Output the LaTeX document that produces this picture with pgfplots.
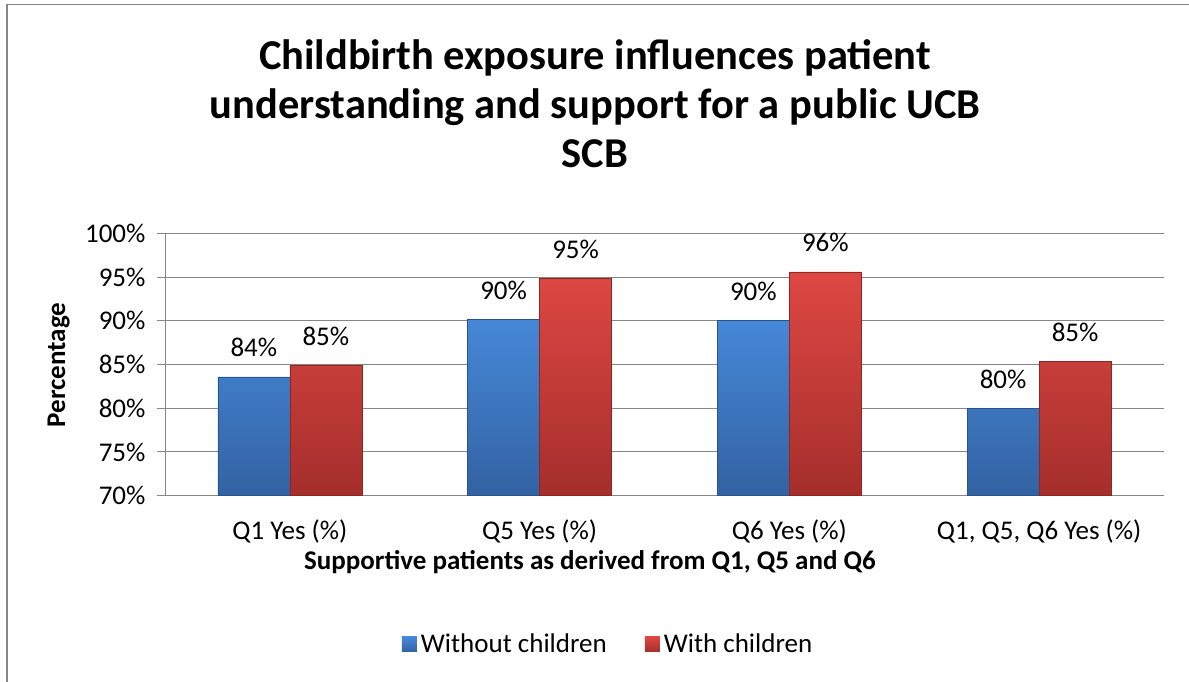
\documentclass[border=0pt]{standalone}
\usepackage{fontspec}
\setmainfont{Carlito}
\usepackage{pgfplots}
\pgfplotsset{compat=1.18}

\definecolor{gridgray}{RGB}{134,134,134}
\definecolor{blueTop}{RGB}{70,136,216}
\definecolor{blueMid}{RGB}{60,120,196}
\definecolor{blueBot}{RGB}{50,98,162}
\definecolor{redTop}{RGB}{222,72,67}
\definecolor{redMid}{RGB}{200,60,56}
\definecolor{redBot}{RGB}{165,46,43}
\newcommand{\lbl}{\fontsize{27}{32}\selectfont}

\begin{document}
\begin{tikzpicture}[x=1pt,y=1pt]
\useasboundingbox (0,0) rectangle (1189,682);
% chart frame
\draw[gridgray, line width=1.3pt] (7,0) -- (7,677.3) -- (1189,677.3);

% title
\begin{scope}[every node/.style={anchor=base, font=\bfseries\fontsize{42.5}{49}\selectfont}]
\node at (595,612) {Childbirth exposure influences patient};
\node at (595,563) {understanding and support for a public UCB};
\node at (595,514) {SCB};
\end{scope}

\begin{axis}[
  at={(165pt,186.3pt)}, anchor=south west,
  scale only axis, width=999pt, height=262.2pt,
  ybar=0pt, bar width=72pt,
  xmin=-0.5, xmax=3.5,
  ymin=70, ymax=100,
  y coord trafo/.code={\pgfmathparse{#1-70}},
  y coord inv trafo/.code={\pgfmathparse{#1+70}},
  xtick={0,1,2,3},
  xticklabels={Q1 Yes (\%), Q5 Yes (\%), Q6 Yes (\%), {Q1, Q5, Q6 Yes (\%)}},
  major x tick style={draw=none},
  extra x ticks={-0.5,0.5,1.5,2.5,3.5},
  extra x tick labels={},
  extra x tick style={major tick length=8pt, tick align=outside,
    tick style={draw=gridgray, line width=1pt}, xmajorgrids=false},
  ytick={70,75,80,85,90,95,100},
  yticklabels={70\%,75\%,80\%,85\%,90\%,95\%,100\%},
  ymajorgrids, grid style={gridgray, line width=1pt},
  tick align=outside, major tick length=8pt,
  axis x line*=bottom, axis y line*=left,
  axis line style={gridgray, line width=1pt, -},
  ytick style={gridgray, line width=1pt},
  tick label style={font=\lbl, text=black},
  xticklabel style={anchor=base, yshift=-36pt},
  yticklabel style={anchor=east, xshift=-8pt},
  clip=false,
  point meta=rawy,
  /pgf/number format/assume math mode=true,
  nodes near coords={\pgfmathprintnumber[fixed,precision=0]{\pgfplotspointmeta}\%},
  nodes near coords style={font=\lbl, anchor=base, yshift=20pt, inner sep=0pt, text=black},
  legend columns=2,
  legend style={at={(0.2372,-0.5656)}, anchor=west, draw=none, fill=none,
    inner sep=0pt, outer sep=0pt, nodes={inner xsep=4pt},
    font=\lbl, /tikz/every even column/.append style={column sep=34pt}},
  legend image code/.code={\path[#1, draw=none] (0pt,-8pt) rectangle (15pt,7pt);},
]
\addplot[top color=blueTop, middle color=blueMid, bottom color=blueBot,
  draw=blueBot!85!black, line width=0.6pt]
  coordinates {(0,83.6) (1,90.2) (2,90.1) (3,80.0)};
\addplot[top color=redTop, middle color=redMid, bottom color=redBot,
  draw=redBot!85!black, line width=0.6pt]
  coordinates {(0,84.9) (1,94.9) (2,95.6) (3,85.4)};
\legend{Without children, With children}
\end{axis}

% axis titles
\node[rotate=90, anchor=base, font=\bfseries\lbl] at (65,317) {Percentage};
\node[anchor=base, font=\bfseries\lbl] at (590,112) {Supportive patients as derived from Q1, Q5 and Q6};
\end{tikzpicture}
\end{document}
